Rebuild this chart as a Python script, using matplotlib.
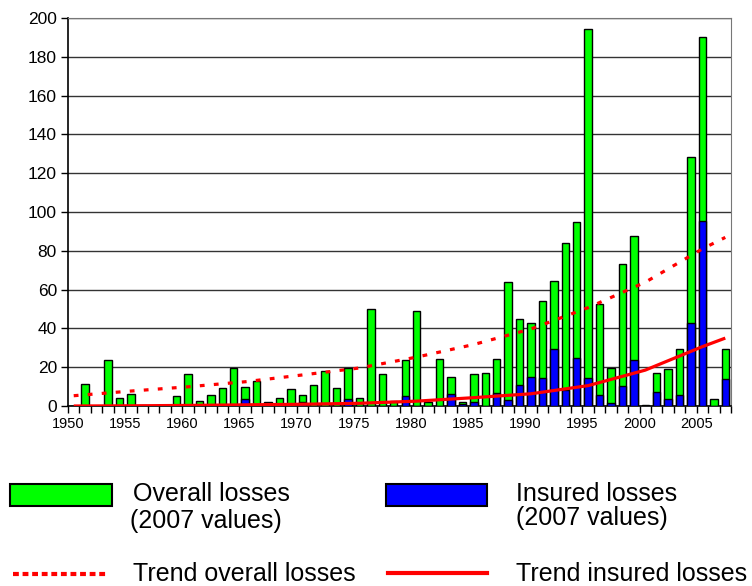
import matplotlib
matplotlib.use('Agg')
import matplotlib.pyplot as plt
from matplotlib.patches import Rectangle
from matplotlib.lines import Line2D
import numpy as np

plt.rcParams['font.family'] = ['Liberation Sans', 'DejaVu Sans']

# data (US$ bn, 2007 values)
years = list(range(1950, 2008))
overall = [0, 11.5, 0, 23.6, 4.1, 6.3, 0.6, 0, 0, 4.9,
           16.4, 2.7, 5.8, 9.2, 19.4, 10.0, 12.9, 2.1, 4.3, 8.6,
           5.8, 10.8, 18.0, 9.3, 19.4, 4.2, 49.8, 16.5, 2.7, 23.8,
           49.0, 2.0, 24.4, 15.0, 2.1, 16.5, 17.2, 24.4, 64.1, 44.7,
           42.6, 54.1, 64.6, 84.2, 95.0, 194.2, 52.6, 19.4, 73.4, 87.8,
           0.7, 17.2, 18.9, 29.6, 128.2, 190.0, 3.6, 29.6]
insured = [0, 0, 0, 0, 0, 0, 0, 0, 0, 0,
           0, 0, 0, 0, 0, 3.5, 0, 0, 0, 0,
           2.0, 0, 0, 0, 3.4, 0, 0, 0, 0, 5.0,
           0, 0, 0, 6.4, 1.0, 2.0, 0, 6.9, 3.0, 10.7,
           15.0, 14.4, 29.5, 8.2, 24.6, 14.3, 5.7, 1.4, 10.3, 23.7,
           0, 7.2, 3.8, 5.8, 42.6, 95.4, 0, 13.9]
trend_years = [1950, 1955, 1960, 1965, 1970, 1975, 1980, 1985, 1990, 1995, 2000, 2005, 2007]
trend_overall = [5.3, 7.7, 9.9, 12.5, 16.0, 19.6, 25.2, 31.7, 39.7, 50.7, 63.8, 81.0, 86.9]
trend_insured = [0.0, 0.1, 0.3, 0.6, 0.9, 1.4, 2.5, 4.3, 6.3, 10.5, 18.5, 30.6, 35.0]

W, H = 752, 586
fig = plt.figure(figsize=(W / 100, H / 100), dpi=100)
ax = fig.add_axes([68 / W, 1 - 406 / H, (731 - 68) / W, (406 - 18) / H])

x = np.array(years) + 0.5
ax.bar(x, overall, width=0.65, color='#00ff00', edgecolor='black', linewidth=1.0, zorder=3)
ax.bar(x, insured, width=0.65, color='#0000ff', edgecolor='black', linewidth=1.0, zorder=4)

tx = np.array(trend_years) + 0.5
ax.plot(tx, trend_overall, color='#ff0000', linewidth=2.3, dashes=(1.5, 2.9), zorder=5)
ax.plot(tx, trend_insured, color='#ff0000', linewidth=2.3, zorder=5, solid_capstyle='butt')

ax.set_xlim(1950, 2008)
ax.set_ylim(0, 200)
ax.set_yticks(range(0, 201, 20))
ax.set_xticks(range(1950, 2009), minor=True)
ax.set_xticks(range(1950, 2006, 5))
ax.set_xticklabels([str(y) for y in range(1950, 2006, 5)], fontsize=10.5)
ax.tick_params(axis='y', labelsize=12.5, length=5, width=1, direction='out', pad=3)
ax.tick_params(axis='x', which='both', length=5, width=1, direction='out', pad=3)
ax.grid(axis='y', color='#333333', linewidth=1.0, zorder=0)
for s in ['top', 'right']:
    ax.spines[s].set_color('#777777')
ax.spines['left'].set_linewidth(1.2)
ax.spines['bottom'].set_linewidth(1.2)

# legend drawn below the plot
def fx(px):
    return px / W

def fy(py):
    return 1 - py / H

fig.patches.append(Rectangle((fx(10), fy(506)), fx(102), 22 / H, transform=fig.transFigure,
                             facecolor='#00ff00', edgecolor='black', linewidth=1.5))
fig.patches.append(Rectangle((fx(386), fy(506)), fx(101), 22 / H, transform=fig.transFigure,
                             facecolor='#0000ff', edgecolor='black', linewidth=1.5))
fig.lines.append(Line2D([fx(13), fx(107)], [fy(574), fy(574)], transform=fig.transFigure,
                        color='#ff0000', linewidth=3, dashes=(1.4, 0.9)))
fig.lines.append(Line2D([fx(388), fx(487)], [fy(573), fy(573)], transform=fig.transFigure,
                        color='#ff0000', linewidth=3))

fs = 18
fig.text(fx(133), fy(494), 'Overall losses', fontsize=fs, va='center', ha='left')
fig.text(fx(130), fy(521), '(2007 values)', fontsize=fs, va='center', ha='left')
fig.text(fx(516), fy(494), 'Insured losses', fontsize=fs, va='center', ha='left')
fig.text(fx(516), fy(518), '(2007 values)', fontsize=fs, va='center', ha='left')
fig.text(fx(133), fy(574), 'Trend overall losses', fontsize=fs, va='center', ha='left')
fig.text(fx(516), fy(574), 'Trend insured losses', fontsize=fs, va='center', ha='left')

fig.savefig('out.png', dpi=100)
